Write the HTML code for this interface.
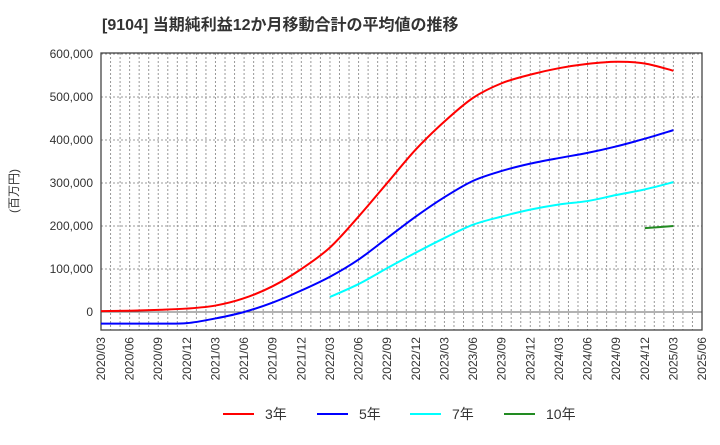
<!DOCTYPE html>
<html><head><meta charset="utf-8"><style>
body{margin:0;background:#fff;}
svg text{font-family:"Liberation Sans","Noto Sans CJK JP",sans-serif;}
</style></head><body>
<svg id="chart" width="720" height="440" xmlns="http://www.w3.org/2000/svg">
<text x="102" y="30" font-size="16" font-weight="bold" fill="#333">[9104]  当期純利益12か月移動合計の平均値の推移</text>
<text transform="translate(18,191) rotate(-90)" font-size="12" fill="#333" text-anchor="middle">(百万円)</text>
<g id="grid"></g><g id="axes"></g><g id="series"></g><g id="legend"></g>
</svg>
<script>
const xLabels=["2020/03","2020/06","2020/09","2020/12","2021/03","2021/06","2021/09","2021/12","2022/03","2022/06","2022/09","2022/12","2023/03","2023/06","2023/09","2023/12","2024/03","2024/06","2024/09","2024/12","2025/03","2025/06"];
const yTicks=[0,100000,200000,300000,400000,500000,600000];
const s3=[2000,3000,5000,8000,15000,32000,60000,100000,150000,222000,300000,378000,443000,498000,532000,552000,567000,577000,582000,578000,561000];
const s5=[-27000,-27000,-27000,-26000,-15000,0,22000,50000,82000,122000,172000,222000,267000,305000,328000,345000,358000,370000,385000,403000,423000];
const s7=[null,null,null,null,null,null,null,null,35000,65000,102000,138000,172000,203000,222000,238000,250000,258000,272000,285000,302000];
const s10=[null,null,null,null,null,null,null,null,null,null,null,null,null,null,null,null,null,null,null,195000,200000];
const L=101,R=702,T=53,B=330;
const x=i=>L+i*(R-L)/21;
const y=v=>312-v*0.00043;
const NS="http://www.w3.org/2000/svg";
function mk(tag,attrs,parent){const e=document.createElementNS(NS,tag);for(const k in attrs)e.setAttribute(k,attrs[k]);parent.appendChild(e);return e;}
const grid=document.getElementById('grid'),axes=document.getElementById('axes'),ser=document.getElementById('series'),leg=document.getElementById('legend');
for(let m=1;m<63;m++){const xx=L+m*(R-L)/63;const l=mk('line',{x1:xx,x2:xx,y1:T,y2:B,stroke:'#999','stroke-dasharray':'2,2','stroke-width':1},grid);

}
yTicks.forEach(v=>{const yy=y(v);const l=mk('line',{x1:L,x2:R,y1:yy,y2:yy,stroke:v===0?'#666':'#999','stroke-dasharray':v===0?'none':'2,2','stroke-width':1},grid);


const t=mk('text',{x:L-8,y:yy+4,'text-anchor':'end','font-size':12,fill:'#333'},axes);t.textContent=v.toLocaleString('en-US');

});
const fr=mk('rect',{x:L,y:T,width:R-L,height:B-T,fill:'none',stroke:'#444','stroke-width':1.3},axes);


xLabels.forEach((lab,i)=>{const t=mk('text',{transform:`translate(${x(i)+4},337) rotate(-90)`,'text-anchor':'end','font-size':12,fill:'#333'},axes);t.textContent=lab;

});
function path(arr){const p=[];arr.forEach((v,i)=>{if(v!==null)p.push([x(i),y(v)]);});if(p.length<2)return '';
let d=`M${p[0][0]},${p[0][1]}`;for(let i=0;i<p.length-1;i++){const p0=p[Math.max(0,i-1)],p1=p[i],p2=p[i+1],p3=p[Math.min(p.length-1,i+2)];
d+=` C${p1[0]+(p2[0]-p0[0])/6},${p1[1]+(p2[1]-p0[1])/6} ${p2[0]-(p3[0]-p1[0])/6},${p2[1]-(p3[1]-p1[1])/6} ${p2[0]},${p2[1]}`;}return d;}
const series=[[s3,'#ff0000','3年','series-3yr'],[s5,'#0000ff','5年','series-5yr'],[s7,'#00ffff','7年','series-7yr'],[s10,'#228b22','10年','series-10yr']];
const lx=[223,317,410,504];
series.forEach((s,k)=>{const p=mk('path',{d:path(s[0]),fill:'none',stroke:s[1],'stroke-width':2},ser);


const g=mk('g',{},leg);


mk('line',{x1:lx[k],x2:lx[k]+31,y1:414,y2:414,stroke:s[1],'stroke-width':2},g);
const t=mk('text',{x:lx[k]+42,y:419,'font-size':14,fill:'#333'},g);t.textContent=s[2];});
</script>
</body></html>
